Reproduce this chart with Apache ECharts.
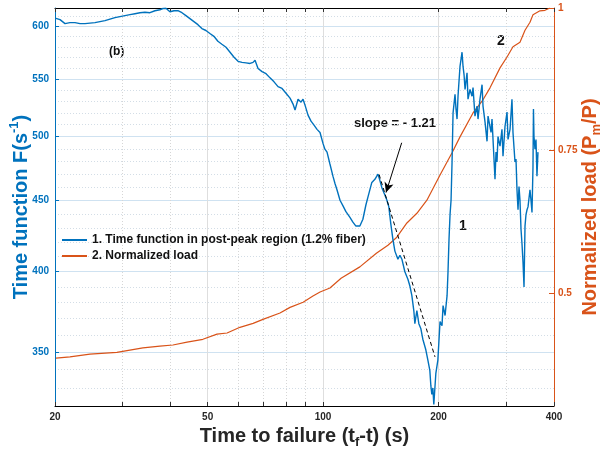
<!DOCTYPE html>
<html><head><meta charset="utf-8">
<script src="https://cdn.jsdelivr.net/npm/echarts@6/dist/echarts.min.js"></script>
<style>html,body{margin:0;padding:0;background:#fff}#c{width:608px;height:454px}</style>
</head><body><div id="c"></div>
<script>
// ---- data ----
const blueT = [20.12,20.61,21.24,21.88,22.55,23.24,23.95,24.67,25.42,26.20,27.00,27.82,28.67,29.54,30.44,31.37,32.32,33.31,34.32,35.37,36.44,37.55,38.23,38.93,39.87,40.85,41.84,42.86,43.90,44.96,46.05,47.17,48.31,49.49,50.69,51.92,53.18,54.47,55.84,57.20,58.59,60.02,61.47,62.97,64.50,65.67,66.46,67.67,69.32,71.00,72.72,74.49,76.30,78.15,80.05,82.00,83.49,84.50,86.04,87.60,88.66,89.72,91.35,93.01,94.70,96.43,98.18,99.94,101.1,102.4,104.2,106.1,107.4,108.7,110.7,112.7,114.7,117.5,119.6,121.8,123.2,124.7,127.0,129.3,130.9,134.0,136.5,139.0,140.6,142.3,144.9,146.7,148.4,150.2,152.0,153.9,156.7,158.6,160.5,163.4,166.4,168.4,170.4,172.5,173.5,175.6,177.7,179.9,182.0,185.3,187.6,189.8,191.0,192.1,193.3,194.4,196.8,199.2,201.8,204.2,205.5,208.0,210.5,211.7,213.0,214.3,215.6,216.9,218.2,220.8,222.1,223.5,224.8,227.5,228.9,230.3,231.7,233.1,234.5,237.3,238.7,241.6,244.5,246.0,248.9,252.0,253.5,256.5,259.7,261.2,264.4,267.6,269.2,272.4,274.1,275.7,280.7,282.4,284.1,285.8,289.3,292.7,294.5,298.1,301.7,303.5,307.2,310.8,312.7,316.5,318.4,320.3,322.3,324.2,326.1,328.1,330.1,332.1,334.1,336.1,338.1,340.2,342.2,346.3,348.4,350.5,352.6,353.6,354.7,356.9,359.0,361.1,363.3];
const blueF = [608,606.7,602.7,603.7,603.7,602.7,602.7,603.2,603.7,604.7,605.7,607.2,608.7,609.7,610.7,611.7,612.7,613.7,614.2,613.7,615.7,616.7,618.0,618.2,614.7,615.7,615.7,613.7,610.7,607.7,604.7,601.7,597.8,595.9,593.0,590.2,585.4,582.5,579.6,574.9,570.1,566.3,565.3,564.8,564.3,565.3,567.2,559.6,556.7,554.8,551.0,547.4,543.1,541.4,537.1,532.8,527.6,522.4,531.9,529.3,531.9,526.7,518.1,512.9,509.5,506.0,503.4,494.4,489.7,487.3,477.8,468.3,462.7,457.9,450.0,445.8,441.6,437.5,434.0,431.2,429.8,431.2,436.1,446.5,452.3,463.5,465.9,469.9,465.1,459.5,454.0,450.0,445.1,432.6,422.2,413.7,408.2,410.9,408.2,399.8,394.9,390.5,384.3,374.4,366.9,375.0,366.9,363.8,357.6,351.4,345.5,339.7,331.0,326.4,329.9,321.0,338.0,345.5,368.2,365.7,378.1,371.9,384.3,399.8,422.2,439.5,450.0,479.4,519.8,536.2,523.3,514.7,534.5,561.5,568.2,574.9,561.5,553.8,540.5,555.7,531.9,540.5,534.5,542.2,517.2,525.9,514.7,531.9,544.8,525.9,512.1,496.1,517.2,517.2,503.4,514.7,465.9,487.3,479.4,500.0,492.1,506.0,484.1,508.6,520.7,497.6,506.0,531.9,503.4,479.4,481.8,457.9,443.0,460.3,450.0,429.1,418.6,406.1,389.8,431.2,439.5,443.0,445.1,457.9,450.0,441.0,475.4,523.3,500.0,489.7,497.6,468.3,487.3];
const loadT = [20.12,21.88,24.67,29.0,33.9,37.55,40.6,44.2,48.6,52.9,56.2,60.7,65.7,69.7,77.2,82.0,88.7,94.1,98.2,104.2,111.4,124.7,137.7,147.6,155.7,165.4,175.6,186.5,201.8,216.9,227.5,246.0,261.2,272.4,289.3,301.7,312.7,326.1,336.1,346.3,352.6,367.7,378.9,390.4];
const loadV = [0.386,0.388,0.393,0.396,0.404,0.407,0.409,0.414,0.419,0.428,0.430,0.440,0.447,0.454,0.465,0.475,0.484,0.495,0.502,0.509,0.526,0.546,0.570,0.584,0.598,0.623,0.640,0.663,0.707,0.746,0.774,0.816,0.839,0.860,0.895,0.914,0.932,0.940,0.961,0.975,0.988,0.995,0.996,1.0];
const slopeT = [140, 195.8];
const slopeF = [469.5, 347.3];
const arrowFrom = [160.3, 494.9];
const arrowTo = [145.9, 455.8];
const xTickLabels = [20, 50, 100, 200, 400];
const xMinorTicks = [30, 40, 60, 70, 80, 90, 300];
const yTickLabels = [350, 400, 450, 500, 550, 600];
const yMinorGrid = [330, 340, 360, 370, 380, 390, 410, 420, 430, 440, 460, 470, 480, 490, 510, 520, 530, 540, 560, 570, 580, 590, 610];
const rTickLabels = [0.5, 0.75, 1];
const seriesNames = ['1. Time function in post-peak region (1.2% fiber)', '2. Normalized load'];

const BLUE = '#0072BD', ORANGE = '#D95319', INK = '#262626';
const FONT = 'Liberation Sans';
const X_MIN = 20, X_MAX = 400, Y_MIN = 320.2, Y_MAX = 618.5, R_MIN = 0.302, R_MAX = 1.0;
const allXTicks = xTickLabels.concat(xMinorTicks).sort((a, b) => a - b);

const blueData = blueT.map((t, i) => [t, blueF[i]]);
const loadData = loadT.map((t, i) => [t, loadV[i]]);
const slopeData = slopeT.map((t, i) => [t, slopeF[i]]);

const hiddenX = (vals, style) => ({
  type: 'log', logBase: 10, min: X_MIN, max: X_MAX, position: 'bottom',
  axisLine: {show: false}, axisLabel: {show: false},
  axisTick: {show: false, customValues: vals},
  splitLine: {show: true, lineStyle: style}
});
const hiddenY = (vals, style) => ({
  type: 'log', logBase: 10, min: Y_MIN, max: Y_MAX, position: 'left',
  axisLine: {show: false}, axisLabel: {show: false},
  axisTick: {show: false, customValues: vals},
  splitLine: {show: true, lineStyle: style}
});

const chart = echarts.init(document.getElementById('c'), null, {renderer: 'canvas'});
chart.setOption({
  animation: false,
  backgroundColor: '#fff',
  textStyle: {fontFamily: FONT},
  grid: {left: 55, right: 54, top: 8, bottom: 48, containLabel: false, outerBoundsMode: 'none'},
  legend: {
    orient: 'vertical', left: 57, top: 229, itemWidth: 25, itemHeight: 2, itemGap: 4, icon: 'rect',
    data: [
      {name: seriesNames[0], itemStyle: {color: BLUE}},
      {name: seriesNames[1], itemStyle: {color: ORANGE}}
    ],
    textStyle: {fontFamily: FONT, fontWeight: 'bold', fontSize: 12, lineHeight: 12, color: '#111'}
  },
  xAxis: [
    {
      type: 'log', logBase: 10, min: X_MIN, max: X_MAX, position: 'bottom',
      name: '{a|Time to failure (t}{s|f}{a|-t) (s)}', nameLocation: 'middle', nameGap: 17,
      nameMoveOverlap: false,
      nameTextStyle: {rich: {
        a: {fontFamily: FONT, fontWeight: 'bold', fontSize: 20, color: INK, lineHeight: 26, verticalAlign: 'middle'},
        s: {fontFamily: FONT, fontWeight: 'bold', fontSize: 13, color: INK, lineHeight: 13, verticalAlign: 'bottom'}
      }},
      axisLine: {show: true, lineStyle: {color: '#000', width: 1}},
      axisTick: {show: true, inside: true, length: 4, customValues: allXTicks, lineStyle: {color: '#333'}},
      axisLabel: {customValues: xTickLabels, margin: 6, fontFamily: FONT, fontWeight: 'bold', fontSize: 10, color: INK},
      splitLine: {show: false}
    },
    {
      type: 'log', logBase: 10, min: X_MIN, max: X_MAX, position: 'top',
      axisLine: {show: true, lineStyle: {color: '#000', width: 1}},
      axisTick: {show: true, inside: true, length: 4, customValues: allXTicks, lineStyle: {color: '#333'}},
      axisLabel: {show: false}, splitLine: {show: false}
    },
    hiddenX(xTickLabels.slice(1, 4), {color: '#dedede', width: 1, type: 'solid'}),
    hiddenX(xMinorTicks, {color: '#d6d6d6', width: 1, type: [1, 2]})
  ],
  yAxis: [
    {
      type: 'log', logBase: 10, min: Y_MIN, max: Y_MAX, position: 'left',
      name: '{a|Time function F(s}{p|-1}{a|)}', nameLocation: 'middle', nameRotate: 90, nameGap: 21,
      nameMoveOverlap: false,
      nameTextStyle: {rich: {
        a: {fontFamily: FONT, fontWeight: 'bold', fontSize: 20, color: BLUE, lineHeight: 26, verticalAlign: 'middle'},
        p: {fontFamily: FONT, fontWeight: 'bold', fontSize: 13, color: BLUE, lineHeight: 13, verticalAlign: 'top'}
      }},
      axisLine: {show: true, lineStyle: {color: BLUE, width: 1}},
      axisTick: {show: true, inside: true, length: 4, customValues: yTickLabels, lineStyle: {color: BLUE}},
      axisLabel: {customValues: yTickLabels, margin: 6, fontFamily: FONT, fontWeight: 'bold', fontSize: 10, color: BLUE},
      splitLine: {show: false}
    },
    {
      type: 'value', min: R_MIN, max: R_MAX, position: 'right',
      name: '{a|Normalized load (P}{b|m}{a|/P)}', nameLocation: 'middle', nameRotate: 90, nameGap: 23,
      nameMoveOverlap: false,
      nameTextStyle: {rich: {
        a: {fontFamily: FONT, fontWeight: 'bold', fontSize: 20, color: ORANGE, lineHeight: 26, verticalAlign: 'middle'},
        b: {fontFamily: FONT, fontWeight: 'bold', fontSize: 13, color: ORANGE, lineHeight: 13, verticalAlign: 'bottom'}
      }},
      axisLine: {show: true, lineStyle: {color: ORANGE, width: 1}},
      axisTick: {show: true, inside: true, length: 5, customValues: rTickLabels, lineStyle: {color: ORANGE}},
      axisLabel: {customValues: rTickLabels, margin: 4, fontFamily: FONT, fontWeight: 'bold', fontSize: 10, color: ORANGE},
      splitLine: {show: false}
    },
    hiddenY(yTickLabels, {color: '#cfe2f1', width: 1, type: 'solid'}),
    hiddenY(yMinorGrid, {color: '#d3dde6', width: 1, type: [1, 2]})
  ],
  graphic: [
    {type: 'text', left: 109, top: 46, style: {text: '(b)', font: 'bold 12px "Liberation Sans"', fill: '#111'}},
    {type: 'text', left: 354, top: 117, style: {text: 'slope = - 1.21', font: 'bold 13px "Liberation Sans"', fill: '#111'}},
    {type: 'text', left: 459, top: 219, style: {text: '1', font: 'bold 14px "Liberation Sans"', fill: '#111'}},
    {type: 'text', left: 497, top: 34, style: {text: '2', font: 'bold 14px "Liberation Sans"', fill: '#111'}}
  ],
  series: [
    {
      name: seriesNames[0], type: 'line', xAxisIndex: 0, yAxisIndex: 0, data: blueData,
      symbol: 'none', smooth: false, lineStyle: {color: BLUE, width: 1.4}, itemStyle: {color: BLUE}, z: 4
    },
    {
      name: seriesNames[1], type: 'line', xAxisIndex: 0, yAxisIndex: 1, data: loadData,
      symbol: 'none', smooth: false, lineStyle: {color: ORANGE, width: 1.2}, itemStyle: {color: ORANGE}, z: 3
    },
    {
      name: 'slope', type: 'line', xAxisIndex: 0, yAxisIndex: 0, data: slopeData,
      symbol: 'none', lineStyle: {color: '#000', width: 1, type: [4, 3]}, z: 5,
      markLine: {
        silent: true, symbol: ['none', 'arrow'], symbolSize: [7, 10], label: {show: false},
        lineStyle: {color: '#000', width: 1, type: 'solid'},
        data: [[{coord: arrowFrom}, {coord: arrowTo}]]
      }
    }
  ]
});
</script>
</body></html>
